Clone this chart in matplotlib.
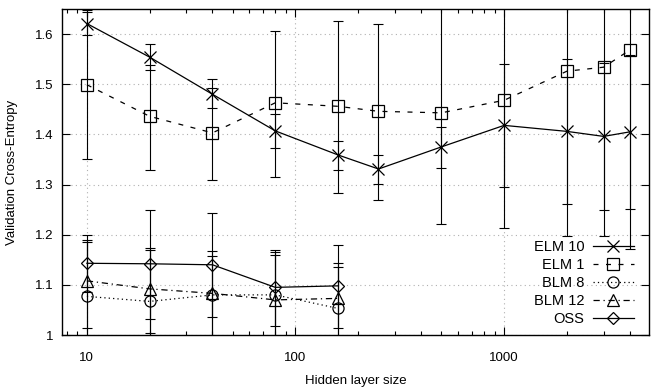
import numpy as np
import matplotlib
matplotlib.use("Agg")
import matplotlib.pyplot as plt
from matplotlib.lines import Line2D

plt.rcParams['font.family'] = ['Liberation Sans', 'DejaVu Sans']

# hidden layer sizes
sizes_elm = [10, 20, 40, 80, 160, 250, 500, 1000, 2000, 3000, 4000]
sizes_blm = [10, 20, 40, 80, 160]

# ELM 10
elm10 = [1.621, 1.554, 1.480, 1.407, 1.359, 1.331, 1.375, 1.418, 1.406, 1.396, 1.405]
elm10_lo = [1.598, 1.529, 1.452, 1.373, 1.329, 1.302, 1.332, 1.296, 1.262, 1.250, 1.252]
elm10_hi = [1.645, 1.581, 1.510, 1.440, 1.387, 1.359, 1.415, 1.541, 1.550, 1.542, 1.558]

# ELM 1
elm1 = [1.499, 1.436, 1.403, 1.463, 1.456, 1.446, 1.443, 1.468, 1.526, 1.534, 1.568]
elm1_lo = [1.350, 1.330, 1.310, 1.315, 1.284, 1.270, 1.221, 1.214, 1.197, 1.197, 1.172]
elm1_hi = [1.648, 1.538, 1.493, 1.606, 1.626, 1.621, 1.665, 1.720, 1.860, 1.870, 1.960]

# BLM 8
blm8 = [1.077, 1.067, 1.080, 1.080, 1.053]
blm8_lo = [0.970, 0.960, 0.960, 0.970, 0.970]
blm8_hi = [1.185, 1.170, 1.158, 1.160, 1.135]

# BLM 12
blm12 = [1.108, 1.092, 1.083, 1.070, 1.073]
blm12_lo = [1.013, 1.003, 0.990, 0.980, 0.990]
blm12_hi = [1.190, 1.173, 1.167, 1.165, 1.143]

# OSS
oss = [1.143, 1.142, 1.140, 1.095, 1.098]
oss_lo = [1.086, 1.031, 1.035, 1.017, 1.013]
oss_hi = [1.200, 1.249, 1.243, 1.170, 1.180]

series = [
    ('ELM 10', sizes_elm, elm10, elm10_lo, elm10_hi, '-', 'x', 9),
    ('ELM 1', sizes_elm, elm1, elm1_lo, elm1_hi, (0, (4, 6)), 's', 8),
    ('BLM 8', sizes_blm, blm8, blm8_lo, blm8_hi, (0, (1, 2.5)), 'o', 8),
    ('BLM 12', sizes_blm, blm12, blm12_lo, blm12_hi, (0, (5, 3, 1, 3)), '^', 8),
    ('OSS', sizes_blm, oss, oss_lo, oss_hi, '-', 'D', 6.5),
]

fig = plt.figure(figsize=(6.57, 3.92), dpi=100)
ax = fig.add_axes([0.0944, 0.1454, 0.8934, 0.8316])

handles = []
for name, x, y, lo, hi, ls, mk, ms in series:
    y = np.array(y)
    err = [y - np.array(lo), np.array(hi) - y]
    ax.errorbar(x, y, yerr=err, fmt='none', ecolor='black', elinewidth=0.8,
                capsize=3.5, capthick=0.8, zorder=2)
    ax.plot(x, y, color='black', linestyle=ls, linewidth=0.9, marker=mk,
            markersize=ms, markerfacecolor='none', markeredgecolor='black',
            markeredgewidth=0.9, zorder=3)
    handles.append(Line2D([], [], color='black', linestyle=ls, linewidth=0.9,
                          marker=mk, markersize=ms, markerfacecolor='none',
                          markeredgewidth=0.9))

ax.set_xscale('log')
ax.set_xlim(7.6, 4950)
ax.set_ylim(1.0, 1.65)
ax.set_xticks([10, 100, 1000])
ax.set_xticklabels(['10', '100', '1000'])
ax.set_yticks([1.0, 1.1, 1.2, 1.3, 1.4, 1.5, 1.6])
ax.set_yticklabels(['1', '1.1', '1.2', '1.3', '1.4', '1.5', '1.6'])
ax.tick_params(which='both', direction='in', top=True, right=True, labelsize=9.5)
ax.tick_params(which='major', length=6, width=0.8)
ax.tick_params(which='minor', length=3, width=0.8)
ax.tick_params(axis='x', pad=12)
ax.tick_params(axis='y', pad=6)
ax.grid(True, which='major', color='#b0b0b0', linestyle=(0, (1, 3)), linewidth=0.8)
for s in ax.spines.values():
    s.set_linewidth(1.0)

ax.set_xlabel('Hidden layer size', fontsize=9.5, labelpad=8)
ax.set_ylabel('Validation Cross-Entropy', fontsize=9.5, labelpad=12)

leg = ax.legend(handles, [s[0] for s in series], loc='lower right', frameon=False,
                bbox_to_anchor=(0.974, 0.027), markerfirst=False, fontsize=10.5,
                handlelength=2.8, labelspacing=0.28, borderaxespad=0, borderpad=0,
                handletextpad=0.6)
for t in leg.get_texts():
    t.set_ha('right')

fig.savefig('out.png', dpi=100)
